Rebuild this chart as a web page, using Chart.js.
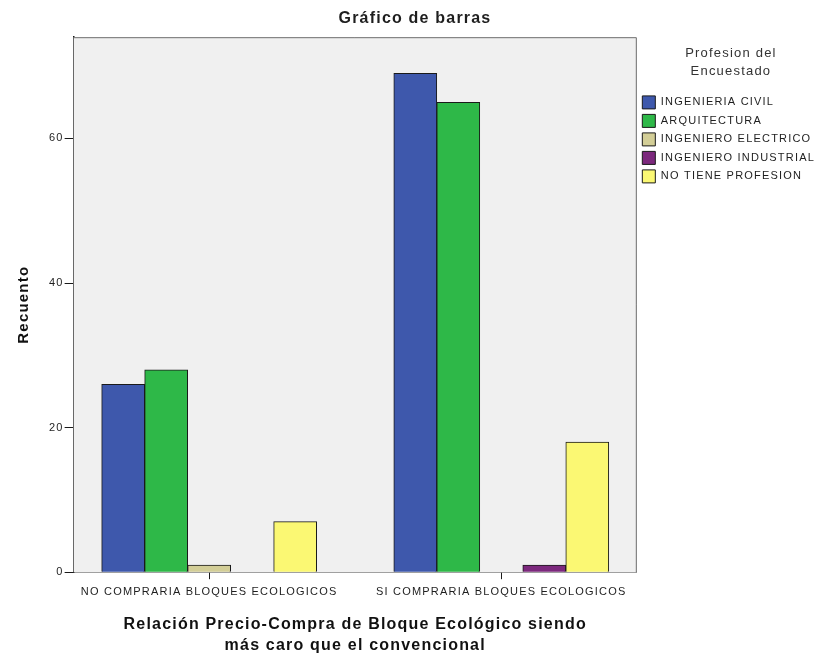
<!DOCTYPE html>
<html>
<head>
<meta charset="utf-8">
<script src="https://cdn.jsdelivr.net/npm/chart.js@4"></script>
<style>
  html, body { margin: 0; padding: 0; background: #ffffff; }
  #wrap { width: 825px; height: 656px; }
</style>
</head>
<body>
<div id="wrap"><canvas id="chart" width="825" height="656"></canvas></div>
<script>
// categories on the x axis (index 0 and 1 on a linear scale)
const categories = ["NO COMPRARIA BLOQUES ECOLOGICOS", "SI COMPRARIA BLOQUES ECOLOGICOS"];

// one series per profession
const seriesNames = [
  "INGENIERIA CIVIL",
  "ARQUITECTURA",
  "INGENIERO ELECTRICO",
  "INGENIERO INDUSTRIAL",
  "NO TIENE PROFESION",
];
const civil = [26, 69];
const arquitectura = [28, 65];
const electrico = [1, 0];
const industrial = [0, 1];
const sinProfesion = [7, 18];

const yTicks = [0, 20, 40, 60];

const seriesColors = ["#3e58ac", "#2eb848", "#d3ce97", "#7c287d", "#fbf873"];
const seriesValues = [civil, arquitectura, electrico, industrial, sinProfesion];

const FONT = "'Liberation Sans', Arial, sans-serif";
const TEXT = "#1e1e1e";
const LETTER_SPACING = "1.2px";

// SPSS text is drawn rather wide; spread the letters a bit
const wideText = {
  id: "wideText",
  beforeLayout(chart) { chart.ctx.letterSpacing = LETTER_SPACING; },
  beforeDraw(chart) { chart.ctx.letterSpacing = LETTER_SPACING; },
};

// light grey plot background plus thin frame, like the SPSS output
const plotBackground = {
  id: "plotBackground",
  beforeDatasetsDraw(chart) {
    const { ctx, chartArea: a } = chart;
    ctx.save();
    ctx.fillStyle = "#f0f0f0";
    ctx.fillRect(a.left, a.top, a.width, a.height);
    ctx.strokeStyle = "#6e6e6e";
    ctx.lineWidth = 1;
    ctx.beginPath();
    ctx.moveTo(a.left, a.top + 0.5);
    ctx.lineTo(a.right - 0.5, a.top + 0.5);
    ctx.lineTo(a.right - 0.5, a.bottom);
    ctx.stroke();
    ctx.restore();
  },
};

const datasets = seriesNames.map((name, i) => ({
  label: name,
  data: seriesValues[i].map((v, k) => ({ x: k, y: v })),
  backgroundColor: seriesColors[i],
  borderColor: "#1a1a1a",
  borderWidth: 1,
  borderSkipped: "bottom",
  barThickness: 43,
}));

new Chart(document.getElementById("chart"), {
  type: "bar",
  data: { datasets },
  plugins: [wideText, plotBackground],
  options: {
    responsive: false,
    animation: false,
    devicePixelRatio: 1,
    layout: { padding: { left: 5, right: 0, top: 0, bottom: 0 } },
    plugins: {
      tooltip: { enabled: false },
      title: {
        display: true,
        text: "Gráfico de barras",
        color: TEXT,
        font: { family: FONT, size: 16, weight: "bold" },
        padding: { top: 9, bottom: 9 },
      },
      legend: {
        display: true,
        position: "right",
        align: "start",
        fullSize: false,
        title: {
          display: true,
          text: ["Profesion del", "Encuestado"],
          color: "#333333",
          font: { family: FONT, size: 13, lineHeight: 1.4 },
          padding: { top: 10, bottom: 25 },
        },
        labels: {
          boxWidth: 13,
          boxHeight: 13,
          padding: 5.5,
          color: TEXT,
          font: { family: FONT, size: 11 },
        },
      },
    },
    scales: {
      x: {
        type: "linear",
        min: -0.464,
        max: 1.464,
        offset: false,
        afterBuildTicks: (scale) => {
          scale.ticks = categories.map((c, i) => ({ value: i }));
        },
        ticks: {
          callback: (v) => categories[v] ?? "",
          color: TEXT,
          font: { family: FONT, size: 11 },
          padding: 6,
          maxRotation: 0,
          autoSkip: false,
        },
        grid: { offset: false, drawOnChartArea: false, tickLength: 7, color: "#1a1a1a" },
        border: { color: "#1a1a1a", width: 1.5 },
        title: {
          display: true,
          text: ["Relación Precio-Compra de Bloque Ecológico siendo", "más caro que el convencional"],
          color: "#111111",
          font: { family: FONT, size: 16, weight: "bold", lineHeight: 1.3 },
          padding: { top: 10, bottom: 0 },
        },
      },
      y: {
        min: 0,
        max: 74,
        afterBuildTicks: (scale) => {
          scale.ticks = yTicks.map((v) => ({ value: v }));
        },
        ticks: {
          color: TEXT,
          font: { family: FONT, size: 11 },
          padding: 1,
        },
        grid: { drawOnChartArea: false, tickLength: 9, color: "#1a1a1a" },
        border: { color: "#1a1a1a", width: 1.5 },
        title: {
          display: true,
          text: "Recuento",
          color: "#111111",
          font: { family: FONT, size: 15, weight: "bold" },
          padding: { top: 10, bottom: 15 },
        },
      },
    },
  },
});
</script>
</body>
</html>
